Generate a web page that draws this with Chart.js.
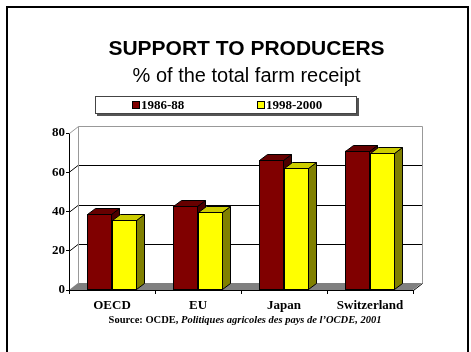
<!DOCTYPE html>
<html>
<head>
<meta charset="utf-8">
<title>Support to producers</title>
<script src="https://cdn.jsdelivr.net/npm/chart.js@4/dist/chart.umd.min.js"></script>
<style>
  html, body { margin: 0; padding: 0; background: #fff; }
  #wrap { width: 471px; height: 352px; }
</style>
</head>
<body>
<div id="wrap"><canvas id="psChart" width="471" height="352"></canvas></div>
<script>
// Producer support estimate, % of total farm receipts
const categories = ['OECD', 'EU', 'Japan', 'Switzerland'];
const seriesLabels = ['1986-88', '1998-2000'];
const values8688 = [38.5, 43, 66, 71];
const values9800 = [35.5, 39.5, 62, 70];
const yTicks = [0, 20, 40, 60, 80];

const serif = '"Times New Roman", "Liberation Serif", serif';
const sans = 'Arial, "Liberation Sans", sans-serif';

// face colours for each series: front, side, top
const faces = [
  { front: '#800000', side: '#4c0000', top: '#660000' },
  { front: '#ffff00', side: '#808000', top: '#cccc00' }
];

// depth of the walls and of the bars
const WALL_DX = 9, WALL_DY = 7;
const BAR_DX = 8, BAR_DY = 6;

function px(v) { return Math.round(v) + 0.5; }

function drawBarBlock(ctx, bar, f) {
  const p = bar.getProps(['x', 'y', 'base', 'width'], true);
  const l = Math.round(p.x - p.width / 2) + 0.5;
  const r = Math.round(p.x + p.width / 2) - 0.5;
  const t = Math.round(p.y) + 0.5;
  const b = Math.round(p.base) - 0.5;
  bar.draw(ctx);
  // side face
  ctx.fillStyle = f.side;
  ctx.beginPath();
  ctx.moveTo(r, t);
  ctx.lineTo(r + BAR_DX, t - BAR_DY);
  ctx.lineTo(r + BAR_DX, b - BAR_DY);
  ctx.lineTo(r, b);
  ctx.closePath();
  ctx.fill();
  ctx.stroke();
  // top face
  ctx.fillStyle = f.top;
  ctx.beginPath();
  ctx.moveTo(l, t);
  ctx.lineTo(l + BAR_DX, t - BAR_DY);
  ctx.lineTo(r + BAR_DX, t - BAR_DY);
  ctx.lineTo(r, t);
  ctx.closePath();
  ctx.fill();
  ctx.stroke();
  // front outline
  ctx.strokeRect(l, t, r - l, b - t);
}

const depthPlugin = {
  id: 'depth3d',
  beforeDraw(chart) {
    const ctx = chart.ctx;
    ctx.save();
    ctx.fillStyle = '#fff';
    ctx.fillRect(0, 0, chart.width, chart.height);

    // outer frame
    ctx.strokeStyle = '#000';
    ctx.lineWidth = 2;
    ctx.strokeRect(7, 7, 461, 370);

    // titles
    ctx.fillStyle = '#000';
    ctx.textAlign = 'center';
    ctx.textBaseline = 'alphabetic';
    ctx.font = 'bold 21px ' + sans;
    ctx.fillText('SUPPORT TO PRODUCERS', 246.5, 55);
    ctx.font = '20px ' + sans;
    ctx.fillText('% of the total farm receipt', 246.5, 82);

    // legend box with a small shadow
    ctx.fillStyle = '#555';
    ctx.fillRect(97, 98, 262, 18);
    ctx.fillStyle = '#fff';
    ctx.fillRect(95, 96, 262, 18);
    ctx.strokeStyle = '#444';
    ctx.lineWidth = 1;
    ctx.strokeRect(95.5, 96.5, 261, 17);

    const keyX = [132, 257];
    ctx.font = 'bold 13px ' + serif;
    ctx.textAlign = 'left';
    chart.data.datasets.forEach((ds, i) => {
      ctx.fillStyle = ds.backgroundColor;
      ctx.fillRect(keyX[i], 101, 7, 7);
      ctx.strokeStyle = '#000';
      ctx.strokeRect(keyX[i] + 0.5, 101.5, 7, 7);
      ctx.fillStyle = '#000';
      ctx.fillText(seriesLabels[i], keyX[i] + 9, 109);
    });
    ctx.restore();
  },
  beforeDatasetsDraw(chart) {
    const ctx = chart.ctx;
    const { left, right, top, bottom } = chart.chartArea;
    const y = chart.scales.y;
    ctx.save();
    ctx.lineWidth = 1;

    // back wall
    ctx.fillStyle = '#fff';
    ctx.fillRect(left + WALL_DX, top - WALL_DY, right - left, bottom - top);

    // floor
    ctx.fillStyle = '#808080';
    ctx.beginPath();
    ctx.moveTo(left, bottom);
    ctx.lineTo(left + WALL_DX, bottom - WALL_DY);
    ctx.lineTo(right + WALL_DX, bottom - WALL_DY);
    ctx.lineTo(right, bottom);
    ctx.closePath();
    ctx.fill();

    // grid lines on the back wall, joined to the front axis
    ctx.strokeStyle = '#000';
    yTicks.slice(1, -1).forEach(t => {
      const yy = y.getPixelForValue(t);
      ctx.beginPath();
      ctx.moveTo(left, px(yy));
      ctx.lineTo(left + WALL_DX, px(yy - WALL_DY));
      ctx.lineTo(right + WALL_DX, px(yy - WALL_DY));
      ctx.stroke();
    });

    // wall edges
    ctx.strokeStyle = '#999';
    ctx.beginPath();
    ctx.moveTo(px(left), px(top));
    ctx.lineTo(px(left + WALL_DX), px(top - WALL_DY));
    ctx.lineTo(px(right + WALL_DX), px(top - WALL_DY));
    ctx.lineTo(px(right + WALL_DX), px(bottom - WALL_DY));
    ctx.moveTo(px(left + WALL_DX), px(top - WALL_DY));
    ctx.lineTo(px(left + WALL_DX), px(bottom - WALL_DY));
    ctx.stroke();

    // front axes
    ctx.strokeStyle = '#000';
    ctx.beginPath();
    ctx.moveTo(px(left), px(top));
    ctx.lineTo(px(left), px(bottom));
    ctx.lineTo(px(right), px(bottom));
    ctx.lineTo(px(right + WALL_DX), px(bottom - WALL_DY));
    ctx.stroke();
    ctx.restore();
  },
  afterDatasetsDraw(chart) {
    // redraw bars category by category so each block covers the one on its left
    const ctx = chart.ctx;
    const metas = chart.data.datasets.map((_, i) => chart.getDatasetMeta(i));
    ctx.save();
    ctx.lineWidth = 1;
    ctx.strokeStyle = '#000';
    categories.forEach((_, c) => {
      metas.forEach((meta, i) => {
        ctx.save();
        drawBarBlock(ctx, meta.data[c], faces[i]);
        ctx.restore();
      });
    });
    ctx.restore();
  },
  afterDraw(chart) {
    const ctx = chart.ctx;
    ctx.save();
    ctx.fillStyle = '#000';
    ctx.textBaseline = 'alphabetic';
    ctx.textAlign = 'left';
    const part1 = 'Source: OCDE, ';
    const part2 = 'Politiques agricoles des pays de l\u2019OCDE, 2001';
    const f1 = 'bold 10.5px ' + serif, f2 = 'italic bold 10.5px ' + serif;
    ctx.font = f1; const w1 = ctx.measureText(part1).width;
    ctx.font = f2; const w2 = ctx.measureText(part2).width;
    const x = 245 - (w1 + w2) / 2;
    ctx.font = f1; ctx.fillText(part1, x, 323);
    ctx.font = f2; ctx.fillText(part2, x + w1, 323);
    ctx.restore();
  }
};

new Chart(document.getElementById('psChart'), {
  type: 'bar',
  data: {
    labels: categories,
    datasets: [
      { label: seriesLabels[0], data: values8688, backgroundColor: faces[0].front },
      { label: seriesLabels[1], data: values9800, backgroundColor: faces[1].front }
    ]
  },
  options: {
    responsive: false,
    animation: false,
    events: [],
    categoryPercentage: 0.57,
    barPercentage: 1,
    layout: { padding: { top: 133, right: 58, left: 0, bottom: 0 } },
    plugins: { legend: { display: false }, title: { display: false }, tooltip: { enabled: false } },
    scales: {
      x: {
        afterFit(scale) { scale.height = 62; },
        grid: { drawOnChartArea: false, offset: true, tickLength: 4, color: '#000' },
        border: { display: false },
        ticks: { color: '#000', padding: 4, font: { family: serif, size: 13, weight: 'bold' } }
      },
      y: {
        min: 0,
        max: 80,
        afterFit(scale) { scale.width = 69; },
        afterBuildTicks(scale) { scale.ticks = yTicks.map(v => ({ value: v })); },
        grid: { drawOnChartArea: false, tickLength: 3, color: '#000' },
        border: { display: false },
        ticks: { color: '#000', padding: 1, font: { family: serif, size: 13, weight: 'bold' } }
      }
    }
  },
  plugins: [depthPlugin]
});
</script>
</body>
</html>
